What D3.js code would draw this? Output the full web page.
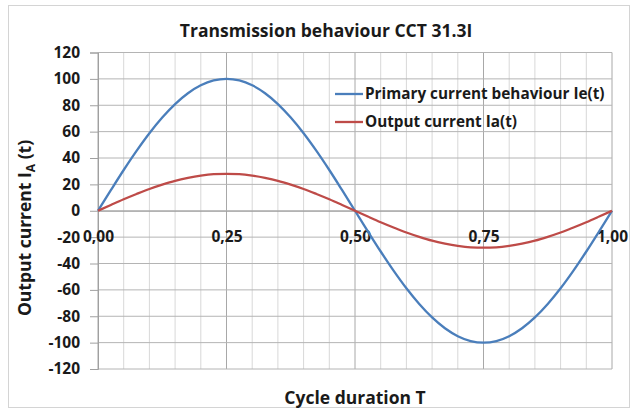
<!DOCTYPE html>
<html lang="en">
<head>
<meta charset="UTF-8">
<title>Transmission behaviour CCT 31.3I</title>
<script src="https://d3js.org/d3.v7.min.js"></script>
<style>
  body { margin: 0; background: #fff; font-family: "Open Sans", sans-serif; }
  svg { display: block; }
  .axis text { font-family: "Open Sans", sans-serif; font-weight: bold; font-size: 15.5px; fill: #1a1a1a; }
</style>
</head>
<body>
<svg id="chart" width="632" height="410"></svg>
<script>
// cycle positions (fraction of T)
const cycle = [0, 0.025, 0.05, 0.075, 0.1, 0.125, 0.15, 0.175, 0.2, 0.225, 0.25,
  0.275, 0.3, 0.325, 0.35, 0.375, 0.4, 0.425, 0.45, 0.475, 0.5,
  0.525, 0.55, 0.575, 0.6, 0.625, 0.65, 0.675, 0.7, 0.725, 0.75,
  0.775, 0.8, 0.825, 0.85, 0.875, 0.9, 0.925, 0.95, 0.975, 1];

// primary current Ie(t)
const primary = [0, 15.6, 30.9, 45.4, 58.8, 70.7, 80.9, 89.1, 95.1, 98.8, 100,
  98.8, 95.1, 89.1, 80.9, 70.7, 58.8, 45.4, 30.9, 15.6, 0,
  -15.6, -30.9, -45.4, -58.8, -70.7, -80.9, -89.1, -95.1, -98.8, -100,
  -98.8, -95.1, -89.1, -80.9, -70.7, -58.8, -45.4, -30.9, -15.6, 0];

// output current Ia(t)
const output = [0, 4.4, 8.7, 12.7, 16.5, 19.8, 22.7, 24.9, 26.6, 27.7, 28,
  27.7, 26.6, 24.9, 22.7, 19.8, 16.5, 12.7, 8.7, 4.4, 0,
  -4.4, -8.7, -12.7, -16.5, -19.8, -22.7, -24.9, -26.6, -27.7, -28,
  -27.7, -26.6, -24.9, -22.7, -19.8, -16.5, -12.7, -8.7, -4.4, 0];

const xTicks = [0, 0.25, 0.5, 0.75, 1];
const yTicks = [-120, -100, -80, -60, -40, -20, 0, 20, 40, 60, 80, 100, 120];
const seriesNames = ["Primary current behaviour Ie(t)", "Output current Ia(t)"];
const seriesColors = ["#4a7ebb", "#be4b48"];

const svg = d3.select("#chart");
const plotLeft = 98, plotRight = 612, plotTop = 52.5, plotBottom = 369;

const x = d3.scaleLinear().domain([0, 1]).range([plotLeft, plotRight]);
const y = d3.scaleLinear().domain([-120, 120]).range([plotBottom, plotTop]);

// chart frame
svg.append("rect")
  .attr("x", 8.5).attr("y", 5.5).attr("width", 621).attr("height", 402)
  .attr("fill", "#fff").attr("stroke", "#d4d4d4");

// vertical gridlines every 0.05
const vGrid = d3.range(0, 21).map(i => i / 20);
svg.append("g").selectAll("line")
  .data(vGrid)
  .join("line")
  .attr("x1", d => x(d)).attr("x2", d => x(d))
  .attr("y1", plotTop).attr("y2", plotBottom)
  .attr("stroke", (d, i) => i % 5 === 0 ? "#a8a8a8" : "#d8d8d8")
  .attr("stroke-width", 1);

// horizontal gridlines
svg.append("g").selectAll("line")
  .data(yTicks)
  .join("line")
  .attr("x1", plotLeft).attr("x2", plotRight)
  .attr("y1", d => y(d)).attr("y2", d => y(d))
  .attr("stroke", "#b4b4b4")
  .attr("stroke-width", 1);

// y axis
const yAxis = svg.append("g")
  .attr("class", "axis")
  .attr("transform", `translate(${plotLeft},0)`)
  .call(d3.axisLeft(y).tickValues(yTicks).tickSize(8).tickPadding(10)
    .tickFormat(d => String(d)));
yAxis.select(".domain").attr("stroke", "#a0a0a0");
yAxis.selectAll(".tick line").attr("stroke", "#a0a0a0");

// x axis sits on zero line
const xAxis = svg.append("g")
  .attr("class", "axis")
  .attr("transform", `translate(0,${y(0)})`)
  .call(d3.axisBottom(x).tickValues(xTicks).tickSize(0).tickPadding(20)
    .tickFormat(d => d3.format(".2f")(d).replace(".", ",")));
xAxis.select(".domain").attr("stroke", "#a0a0a0");

// series lines
const line = d3.line().curve(d3.curveMonotoneX);
[primary, output].forEach((vals, i) => {
  svg.append("path")
    .datum(vals.map((v, j) => [x(cycle[j]), y(v)]))
    .attr("d", line)
    .attr("fill", "none")
    .attr("stroke", seriesColors[i])
    .attr("stroke-width", 2.3);
});

// legend
const legend = svg.append("g").attr("transform", "translate(335,94)");
seriesNames.forEach((name, i) => {
  const g = legend.append("g").attr("transform", `translate(0,${i * 28})`);
  g.append("line").attr("x1", 0).attr("x2", 28).attr("y1", 0).attr("y2", 0)
    .attr("stroke", seriesColors[i]).attr("stroke-width", 2.3);
  g.append("text").attr("x", 30).attr("y", 0).attr("dy", "0.35em")
    .attr("font-size", 15.3).attr("font-weight", "bold").attr("fill", "#1a1a1a")
    .text(name);
});

// title
svg.append("text")
  .attr("x", 326).attr("y", 37)
  .attr("text-anchor", "middle")
  .attr("font-size", 17.5).attr("font-weight", "bold").attr("fill", "#1a1a1a")
  .text("Transmission behaviour CCT 31.3I");

// x axis title
svg.append("text")
  .attr("x", (plotLeft + plotRight) / 2).attr("y", 404)
  .attr("text-anchor", "middle")
  .attr("font-size", 17.5).attr("font-weight", "bold").attr("fill", "#1a1a1a")
  .text("Cycle duration T");

// y axis title with subscript A
const yTitle = svg.append("text")
  .attr("transform", "translate(31,228) rotate(-90)")
  .attr("text-anchor", "middle")
  .attr("font-size", 17.5).attr("font-weight", "bold").attr("fill", "#1a1a1a");
yTitle.append("tspan").text("Output current I");
yTitle.append("tspan").attr("font-size", 12).attr("dy", 4).text("A");
yTitle.append("tspan").attr("dy", -4).text(" (t)");
</script>
</body>
</html>
